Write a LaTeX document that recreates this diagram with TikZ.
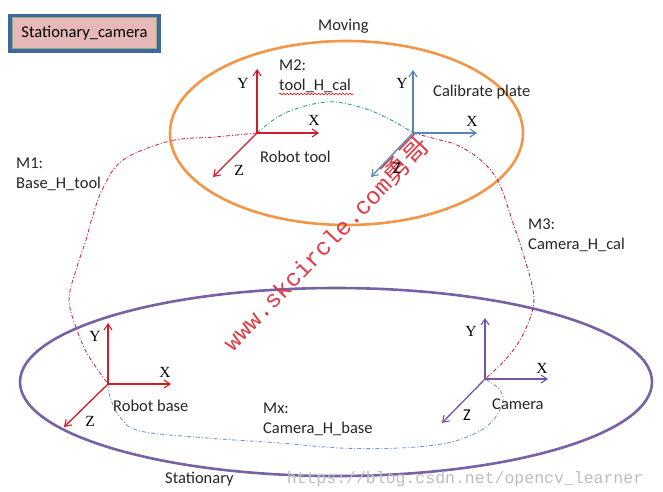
\documentclass[tikz,border=0pt]{standalone}
\usepackage{fontspec}
\setmainfont{Carlito}
\newfontfamily\serifax{Liberation Serif}
\newfontfamily\monowm{Liberation Mono}
\newfontfamily\cjkwm{Noto Sans CJK SC}
\usetikzlibrary{arrows.meta,decorations.pathmorphing}
\definecolor{boxblue}{RGB}{62,102,160}
\definecolor{boxpink}{RGB}{230,185,184}
\definecolor{boxgreen}{RGB}{150,170,120}
\definecolor{orangeE}{RGB}{242,150,72}
\definecolor{purpleE}{RGB}{118,98,165}
\definecolor{axred}{RGB}{205,28,42}
\definecolor{axblue}{RGB}{88,132,185}
\definecolor{axpurple}{RGB}{118,84,165}
\definecolor{mone}{RGB}{210,45,85}
\definecolor{mtwo}{RGB}{50,160,140}
\definecolor{mthree}{RGB}{185,45,75}
\definecolor{mx}{RGB}{120,150,200}
\definecolor{wmred}{RGB}{222,62,72}
\definecolor{wmgray}{RGB}{190,190,190}
\begin{document}
\begin{tikzpicture}[x=1pt,y=-1pt,
  lbl/.style={font=\fontsize{16.5}{19}\selectfont, inner sep=0pt, text=black!85},
  axl/.style={font=\serifax\fontsize{15.5}{18}\selectfont, inner sep=0pt},
  axs/.style={font=\fontsize{16.5}{18}\selectfont, inner sep=0pt},
  axis/.style={line width=1.3pt, -{Straight Barb[length=6pt,width=8pt,line width=1.1pt]}},
  ell/.style={line width=2.6pt},
  mlink/.style={line width=0.9pt, dash pattern=on 4pt off 2pt on 1pt off 2pt}
]
\useasboundingbox (0,0) rectangle (663,491);
\fill[white] (0,0) rectangle (663,491);

% top-left box
\node[draw=boxblue, line width=4pt, fill=boxpink, minimum width=148.4pt, minimum height=35pt, inner sep=0pt, font=\fontsize{16.5}{19}\selectfont] (box) at (84.5,33) {Stationary\_camera};
\draw[boxgreen, line width=0.6pt] (12.6,17.4) rectangle (156.4,48.2);

% ellipses
\draw[orangeE, ell] (346.5,133) ellipse [x radius=176.5pt, y radius=92pt];
\draw[purpleE, ell] (336,382) ellipse [x radius=316pt, y radius=94pt];

% watermark
\node[rotate=46, text=wmred, inner sep=0pt] (wm) at (325,243) {\monowm\fontsize{24}{30}\selectfont www.skcircle.com\cjkwm\fontsize{27}{30}\selectfont 勇哥};
\node[text=wmgray, inner sep=0pt, font=\monowm\fontsize{16.5}{18}\selectfont] (url) at (465,479) {https://blog.csdn.net/opencv\_learner};

% frame origins and tips
\coordinate (rtO) at (257,133); \coordinate (rtY) at (257,69);
\coordinate (rtX) at (319,133); \coordinate (rtZ) at (213,177);
\coordinate (caO) at (413,133); \coordinate (caY) at (413,70);
\coordinate (caX) at (477,133); \coordinate (caZ) at (371,177);
\coordinate (rbO) at (108,384); \coordinate (rbY) at (108,323);
\coordinate (rbX) at (171,384); \coordinate (rbZ) at (64,427);
\coordinate (cmO) at (485,379); \coordinate (cmY) at (485,318);
\coordinate (cmX) at (548,379); \coordinate (cmZ) at (442,423);

% links
\draw[mlink, mone] plot[smooth, tension=0.6] coordinates {(rtO) (215,137) (170,141) (123,160) (103,188) (93,215) (86,240) (76,270) (69,300) (77,330) (88,355) (rbO)};
\draw[mlink, mtwo] plot[smooth, tension=0.6] coordinates {(rtO) (285,113) (327,102) (363,108) (393,121) (caO)};
\draw[mlink, mthree] plot[smooth, tension=0.6] coordinates {(caO) (440,140) (457,145) (477,157) (493,173) (502,190) (512,220) (522,250) (533,290) (532,312) (520,340) (505,360) (cmO)};
\draw[mlink, mx] plot[smooth, tension=0.6] coordinates {(rbO) (110,397) (120,417) (140,431) (207,438) (280,443) (340,448) (400,448) (447,443) (478,432) (495,418) (503,400) (498,388) (cmO)};

% axes
\draw[axis, axred] (rtO) -- (rtY);
\draw[axis, axred] (rtO) -- (rtX);
\draw[axis, axred] (rtO) -- (rtZ);
\draw[axis, axblue] (caO) -- (caY);
\draw[axis, axblue] (caO) -- (caX);
\draw[axis, axblue] (caO) -- (caZ);
\draw[axis, axred] (rbO) -- (rbY);
\draw[axis, axred] (rbO) -- (rbX);
\draw[axis, axred] (rbO) -- (rbZ);
\draw[axis, axpurple] (cmO) -- (cmY);
\draw[axis, axpurple] (cmO) -- (cmX);
\draw[axis, axpurple] (cmO) -- (cmZ);

% axis labels
\node[axl] (rtYl) at (243,83) {Y};
\node[axl] (rtXl) at (314,120) {X};
\node[axl] (rtZl) at (239,170) {Z};
\node[axl] (caYl) at (402,83) {Y};
\node[axl] (caXl) at (472,121) {X};
\node[axs] (caZl) at (397,168) {Z};
\node[axl] (rbYl) at (95,336) {Y};
\node[axl] (rbXl) at (165,372) {X};
\node[axl] (rbZl) at (90,421) {Z};
\node[axl] (cmYl) at (471,331) {Y};
\node[axl] (cmXl) at (542,368) {X};
\node[axs] (cmZl) at (467,415) {Z};

% text labels
\node[lbl, anchor=base west] (moving) at (318,30.5) {Moving};
\node[lbl, anchor=base west] (stat) at (165,483) {Stationary};
\node[lbl, anchor=base west] (m2a) at (279,70) {M2:};
\node[lbl, anchor=base west] (m2b) at (279,90) {tool\_H\_cal};
\draw[red, line width=0.6pt, decorate, decoration={snake, amplitude=0.8pt, segment length=3.5pt}] (279,94) -- (353,94);
\node[lbl, anchor=base west] (rtool) at (260,162) {Robot tool};
\node[lbl, anchor=base west] (cplate) at (433,96) {Calibrate plate};
\node[lbl, anchor=base west] (m1a) at (16,168) {M1:};
\node[lbl, anchor=base west] (m1b) at (16,188) {Base\_H\_tool};
\node[lbl, anchor=base west] (m3a) at (528,229) {M3:};
\node[lbl, anchor=base west] (m3b) at (528,249) {Camera\_H\_cal};
\node[lbl, anchor=base west] (mxa) at (263,413) {Mx:};
\node[lbl, anchor=base west] (mxb) at (263,433) {Camera\_H\_base};
\node[lbl, anchor=base west] (rbase) at (113,411) {Robot base};
\node[lbl, anchor=base west] (cam) at (492,409) {Camera};
\end{tikzpicture}
\end{document}
